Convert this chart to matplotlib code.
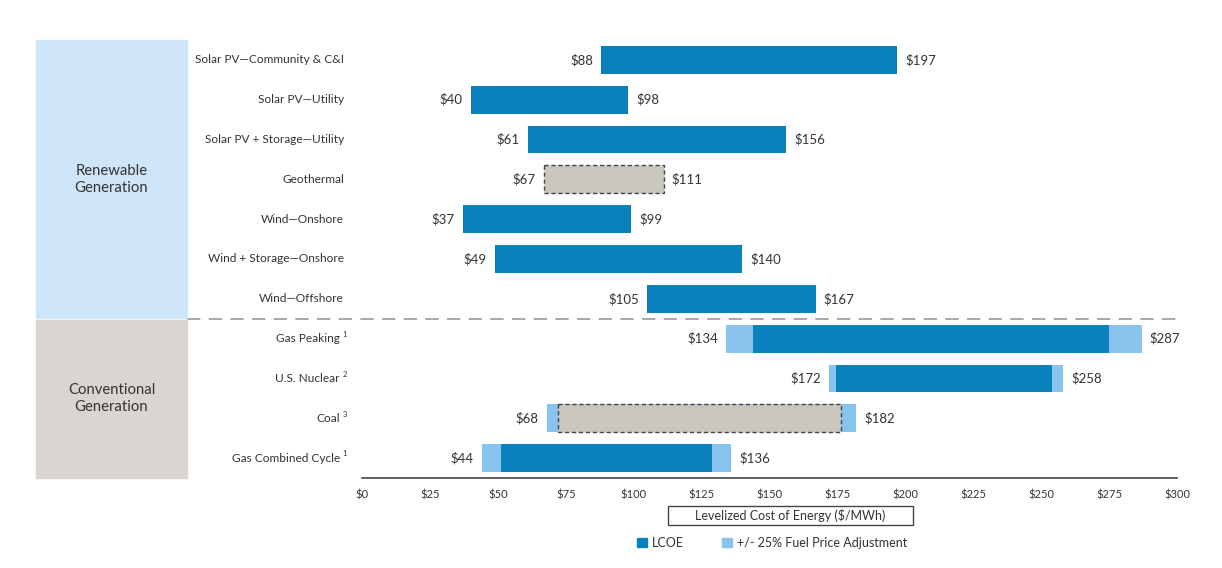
import matplotlib.pyplot as plt
import matplotlib.transforms as mtransforms
from matplotlib.patches import Rectangle, Patch

# data ($/MWh)
names = ['Solar PV\u2014Community & C&I', 'Solar PV\u2014Utility', 'Solar PV + Storage\u2014Utility',
         'Geothermal', 'Wind\u2014Onshore', 'Wind + Storage\u2014Onshore', 'Wind\u2014Offshore',
         'Gas Peaking', 'U.S. Nuclear', 'Coal', 'Gas Combined Cycle']
notes = ['', '', '', '', '', '', '', '1', '2', '3', '1']
low = [88, 40, 61, 67, 37, 49, 105, 134, 172, 68, 44]        # incl. fuel adjustment
high = [197, 98, 156, 111, 99, 140, 167, 287, 258, 182, 136]
lcoe_low = [88, 40, 61, 67, 37, 49, 105, 144, 174.5, 72, 51]
lcoe_high = [197, 98, 156, 111, 99, 140, 167, 275, 254, 176.5, 129]
greyed = ['Geothermal', 'Coal']
xticks = list(range(0, 301, 25))

DARK = '#0a80bf'
LIGHT = '#88c4ee'
GREY = '#c9c5bf'
TXT = '#333333'

plt.rcParams['font.family'] = ['Lato', 'DejaVu Sans']

fig = plt.figure(figsize=(12.22, 5.68), dpi=100)
ax = fig.add_axes([362 / 1222, 1 - 478 / 568, 815 / 1222, 438 / 568])

'''bars'''
h = 0.7
for i, n in enumerate(names):
    if low[i] != lcoe_low[i] or high[i] != lcoe_high[i]:
        ax.barh(i, high[i] - low[i], left=low[i], height=h, color=LIGHT, lw=0)
    if n in greyed:
        ax.barh(i, lcoe_high[i] - lcoe_low[i], left=lcoe_low[i], height=h, color=GREY,
                edgecolor='#444444', linestyle=(0, (3, 2)), lw=1)
    else:
        ax.barh(i, lcoe_high[i] - lcoe_low[i], left=lcoe_low[i], height=h, color=DARK, lw=0)
    ax.text(low[i] - 3, i, '$%d' % low[i], ha='right', va='center', fontsize=9.5, color=TXT)
    ax.text(high[i] + 3, i, '$%d' % high[i], ha='left', va='center', fontsize=9.5, color=TXT)
    off = -16 if notes[i] else -13
    ax.annotate(n, xy=(0, i), xycoords=('axes fraction', 'data'), xytext=(off, 0),
                textcoords='offset points', ha='right', va='center', fontsize=8.6, color=TXT)
    if notes[i]:
        ax.annotate(notes[i], xy=(0, i), xycoords=('axes fraction', 'data'), xytext=(-13.8, 3),
                    textcoords='offset points', ha='left', va='center', fontsize=5.5, color=TXT)

ax.set_xlim(0, 300)
ax.set_ylim(10.5, -0.5)
ax.set_xticks(xticks)
ax.set_xticklabels(['$%d' % t for t in xticks], fontsize=8, color=TXT)
ax.tick_params(axis='x', length=0, pad=8)
ax.set_yticks([])
for s in ['top', 'left', 'right']:
    ax.spines[s].set_visible(False)
ax.spines['bottom'].set_color('#444444')
ax.spines['bottom'].set_linewidth(1.2)

'''group boxes'''
tr = mtransforms.blended_transform_factory(fig.transFigure, ax.transData)
x0, w = 36 / 1222, 151 / 1222
fig.patches.append(Rectangle((x0, -0.5), w, 6.98, transform=tr, color='#cfe6f8', zorder=0))
fig.patches.append(Rectangle((x0, 6.53), w, 3.97, transform=tr, color='#d9d6d2', zorder=0))
fig.text(x0 + w / 2, 3.0, 'Renewable\nGeneration', transform=tr, ha='center', va='center',
         fontsize=10.7, color=TXT, linespacing=1.25)
fig.text(x0 + w / 2, 8.5, 'Conventional\nGeneration', transform=tr, ha='center', va='center',
         fontsize=10.7, color=TXT, linespacing=1.25)
ax.plot([(187 - 362) / 815, 1], [6.5, 6.5], transform=mtransforms.blended_transform_factory(ax.transAxes, ax.transData),
        color='#9a9a9a', lw=1.2, dashes=(8, 5), clip_on=False)

'''axis title box'''
fig.patches.append(Rectangle((668 / 1222, 1 - 525 / 568), 245 / 1222, 19 / 568,
                             transform=fig.transFigure, fill=False, edgecolor='#444444', lw=1))
fig.text(790 / 1222, 1 - 516 / 568, 'Levelized Cost of Energy ($/MWh)', ha='center', va='center',
         fontsize=9, color=TXT)

'''legend'''
handles = [Patch(color=DARK, label='LCOE'), Patch(color=LIGHT, label='+/- 25% Fuel Price Adjustment')]
fig.legend(handles=handles, loc='center', bbox_to_anchor=(772 / 1222, 1 - 543 / 568), ncol=2,
           frameon=False, fontsize=9, handlelength=0.8, handleheight=0.8, handletextpad=0.4,
           columnspacing=3, labelcolor=TXT)

fig.savefig('out.png', dpi=100)
